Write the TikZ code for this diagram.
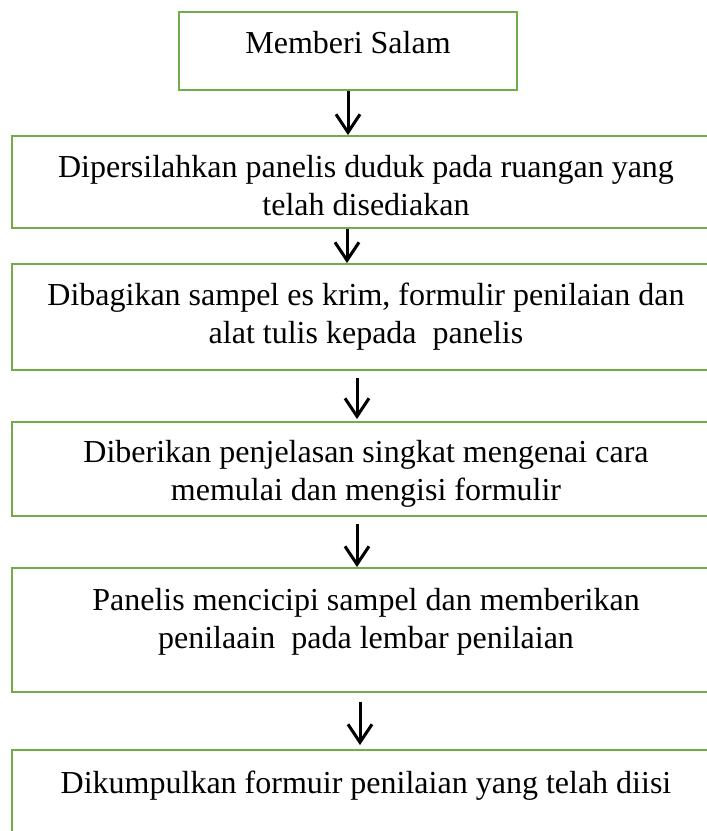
\documentclass[tikz,border=0pt]{standalone}
\usepackage{fontspec}
\setmainfont{Liberation Serif}
\usetikzlibrary{arrows.meta}
\definecolor{boxgreen}{RGB}{112,173,71}

\begin{document}
\begin{tikzpicture}[x=1pt,y=-1pt,
        box/.style={rectangle,draw=boxgreen,line width=2pt,inner sep=0pt},
        txt/.style={align=center,inner sep=0pt,font=\fontsize{32pt}{37.5pt}\selectfont},
        flow/.style={line width=3pt,-{Straight Barb[length=18pt,width=24pt]}}]
        \useasboundingbox (0,0) rectangle (707,831);
        \node[box,minimum width=338pt,minimum height=78pt] (B1) at (348,51) {};
        \node[box,minimum width=708pt,minimum height=92pt] (B2) at (366,182) {};
        \node[box,minimum width=708pt,minimum height=106pt] (B3) at (366,317) {};
        \node[box,minimum width=708pt,minimum height=94pt] (B4) at (366,469) {};
        \node[box,minimum width=708pt,minimum height=124pt] (B5) at (366,630) {};
        \node[box,minimum width=708pt,minimum height=100pt] (B6) at (366,800) {};
        \node[txt,anchor=base] (T1) at (348,53) {Memberi Salam};
        \node[txt,anchor=base] (T2) at (366,215) {Dipersilahkan panelis duduk pada ruangan yang\\telah disediakan};
        \node[txt,anchor=base] (T3) at (366,343) {Dibagikan sampel es krim, formulir penilaian dan\\alat tulis kepada\ \ panelis};
        \node[txt,anchor=base] (T4) at (366,500) {Diberikan penjelasan singkat mengenai cara\\memulai dan mengisi formulir};
        \node[txt,anchor=base] (T5) at (366,648) {Panelis mencicipi sampel dan memberikan\\penilaain\ \ pada lembar penilaian};
        \node[txt,anchor=base] (T6) at (366,793) {Dikumpulkan formuir penilaian yang telah diisi};
        \draw[flow] (B1.south) -- (B1.south |- B2.north);
        \draw[flow] ([xshift=-19pt]B2.south) -- ([xshift=-19pt]B3.north);
        \draw[flow] ([xshift=-9pt,yshift=-7pt]B3.south) -- ([xshift=-9pt,yshift=2pt]B4.north);
        \draw[flow] ([xshift=-9pt,yshift=-7pt]B4.south) -- ([xshift=-9pt]B5.north);
        \draw[flow] ([xshift=-6pt,yshift=-9pt]B5.south) -- ([xshift=-6pt,yshift=4pt]B6.north);
    \end{tikzpicture}
\end{document}
